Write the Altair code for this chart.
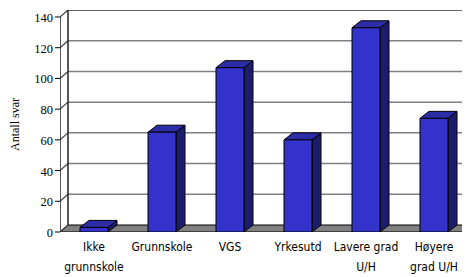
import altair as alt
import pandas as pd

categories = ["Ikke\ngrunnskole", "Grunnskole", "VGS", "Yrkesutd", "Lavere grad\nU/H", "Høyere\ngrad U/H"]
values = [3, 65, 107, 60, 133, 74]
y_ticks = [0, 20, 40, 60, 80, 100, 120, 140]
y_title = "Antall svar"

# geometry (category units on x, value units on y)
PX_X = 68.0                 # pixels per category
PX_Y = 215.0 / 140.0        # pixels per value unit
W = 402
H = 222
XMAX = W / PX_X
YMAX = H / PX_Y
WALL_DX = 8 / PX_X
WALL_DY = 7 / PX_Y
BAR_DX = 9 / PX_X
BAR_DY = 7 / PX_Y
HALF = 14 / PX_X
TICK = 5 / PX_X

xs = alt.Scale(domain=[0, XMAX], nice=False, zero=False)
ys = alt.Scale(domain=[0, YMAX], nice=False, zero=False)

x_axis = alt.Axis(
    values=[0, 1, 2, 3, 4, 5, 6], labels=False, title=None, grid=False,
    domain=True, domainColor="#000000", domainWidth=1.5,
    ticks=True, tickColor="#000000", tickSize=4, tickWidth=1)

# floor
floor_df = pd.DataFrame({
    "y": [0, WALL_DY],
    "x": [0, WALL_DX],
    "x2": [XMAX + 1, XMAX + 1 + WALL_DX],
})
floor = alt.Chart(floor_df).mark_area(
    orient="horizontal", color="#808080", stroke="#000000", strokeWidth=1, clip=True
).encode(
    y=alt.Y("y:Q", scale=ys, axis=None),
    x=alt.X("x:Q", scale=xs, axis=x_axis),
    x2="x2:Q",
)

# back-wall gridlines
grid_df = pd.DataFrame({
    "v": y_ticks[1:],
    "y": [v + WALL_DY for v in y_ticks[1:]],
    "x": [WALL_DX] * (len(y_ticks) - 1),
    "x2": [XMAX + 1] * (len(y_ticks) - 1),
    "c": ["#808080"] * (len(y_ticks) - 2) + ["#303030"],
})
grid = alt.Chart(grid_df).mark_rule(strokeWidth=1.5, clip=True).encode(
    x=alt.X("x:Q", scale=xs, axis=None),
    x2="x2:Q",
    y=alt.Y("y:Q", scale=ys, axis=None),
    color=alt.Color("c:N", scale=None, legend=None),
)

# diagonals on left side wall
diag_df = pd.DataFrame({
    "x": [0.0] * len(y_ticks),
    "x2": [WALL_DX] * len(y_ticks),
    "y": y_ticks,
    "y2": [v + WALL_DY for v in y_ticks],
})
diag = alt.Chart(diag_df).mark_rule(strokeWidth=1.2, color="#404040", clip=True).encode(
    x=alt.X("x:Q", scale=xs, axis=None), x2="x2:Q",
    y=alt.Y("y:Q", scale=ys, axis=None), y2="y2:Q",
)

# back wall left edge and front value axis line
edges_df = pd.DataFrame({
    "x": [WALL_DX, 0.0],
    "y": [WALL_DY, 0.0],
    "y2": [y_ticks[-1] + WALL_DY, y_ticks[-1]],
})
edges = alt.Chart(edges_df).mark_rule(strokeWidth=1.5, color="#202020", clip=True).encode(
    x=alt.X("x:Q", scale=xs, axis=None),
    y=alt.Y("y:Q", scale=ys, axis=None),
    y2="y2:Q",
)

# value-axis ticks and labels
ytick_df = pd.DataFrame({
    "v": y_ticks,
    "x": [0.0] * len(y_ticks),
    "x2": [-TICK] * len(y_ticks),
    "lab": [str(v) for v in y_ticks],
})
yticks = alt.Chart(ytick_df).mark_rule(strokeWidth=1, color="#000000").encode(
    x=alt.X("x:Q", scale=xs, axis=None), x2="x2:Q",
    y=alt.Y("v:Q", scale=ys, axis=None),
)
ylabels = alt.Chart(ytick_df).mark_text(
    align="right", baseline="middle", dx=-7, dy=1,
    font="Liberation Serif", fontSize=12.5, color="#000000"
).encode(
    x=alt.X("x:Q", scale=xs, axis=None),
    y=alt.Y("v:Q", scale=ys, axis=None),
    text="lab:N",
)
title_df = pd.DataFrame({"t": [y_title], "x": [0.0], "v": [sum(y_ticks) / len(y_ticks)]})
ytitle = alt.Chart(title_df).mark_text(
    angle=270, align="center", baseline="middle", dy=-45,
    font="Liberation Serif", fontSize=12, color="#000000"
).encode(
    x=alt.X("x:Q", scale=xs, axis=None),
    y=alt.Y("v:Q", scale=ys, axis=None),
    text="t:N",
)

# bars
n = len(categories)
front_df = pd.DataFrame({
    "cat": categories,
    "xl": [i + 0.5 - HALF for i in range(n)],
    "xr": [i + 0.5 + HALF for i in range(n)],
    "y0": [0.0] * n,
    "v": values,
})
front = alt.Chart(front_df).mark_rect(
    color="#3333CC", stroke="#000000", strokeWidth=1, clip=True
).encode(
    x=alt.X("xl:Q", scale=xs, axis=None), x2="xr:Q",
    y=alt.Y("y0:Q", scale=ys, axis=None), y2="v:Q",
)

side_rows = []
top_rows = []
for i, (c, v) in enumerate(zip(categories, values)):
    xl = i + 0.5 - HALF
    xr = i + 0.5 + HALF
    side_rows.append({"cat": c, "x": xr, "y": 0.0, "y2": v})
    side_rows.append({"cat": c, "x": xr + BAR_DX, "y": BAR_DY, "y2": v + BAR_DY})
    top_rows.append({"cat": c, "y": v, "x": xl, "x2": xr})
    top_rows.append({"cat": c, "y": v + BAR_DY, "x": xl + BAR_DX, "x2": xr + BAR_DX})
side_df = pd.DataFrame(side_rows)
top_df = pd.DataFrame(top_rows)

side = alt.Chart(side_df).mark_area(
    orient="vertical", color="#1C1C6E", stroke="#000000", strokeWidth=1, clip=True
).encode(
    x=alt.X("x:Q", scale=xs, axis=None),
    y=alt.Y("y:Q", scale=ys, axis=None), y2="y2:Q",
    detail="cat:N",
)
top = alt.Chart(top_df).mark_area(
    orient="horizontal", color="#2C2CA6", stroke="#000000", strokeWidth=1, clip=True
).encode(
    y=alt.Y("y:Q", scale=ys, axis=None),
    x=alt.X("x:Q", scale=xs, axis=None), x2="x2:Q",
    detail="cat:N",
)

# category labels
lab_df = pd.DataFrame({
    "cat": categories,
    "x": [i + 0.5 for i in range(n)],
    "y": [0.0] * n,
})
labels = alt.Chart(lab_df).mark_text(
    baseline="top", align="center", dy=10, lineBreak="\n", lineHeight=20,
    font="Liberation Sans Narrow, Arial Narrow, DejaVu Sans Condensed, Liberation Sans, sans-serif",
    fontSize=12, color="#000000"
).encode(
    x=alt.X("x:Q", scale=xs, axis=None),
    y=alt.Y("y:Q", scale=ys, axis=None),
    text="cat:N",
)

chart = alt.layer(floor, grid, diag, edges, yticks, ylabels, ytitle,
                  side, top, front, labels).properties(
    width=W, height=H,
    autosize=alt.AutoSizeParams(type="none"),
    padding={"left": 52, "top": 2, "right": 0, "bottom": 45},
    background="#FFFFFF",
).configure_view(stroke=None)

chart.save("out.html", embed_options={"renderer": "svg", "actions": False})
